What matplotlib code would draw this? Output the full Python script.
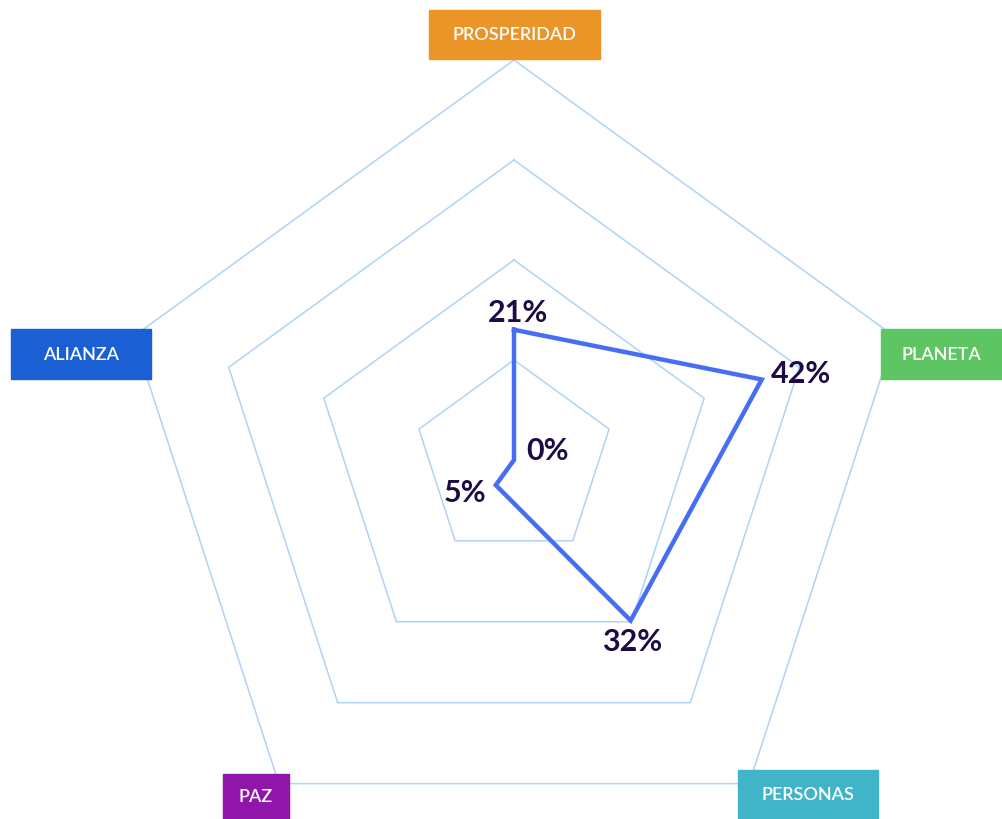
import numpy as np
import matplotlib.pyplot as plt
from matplotlib.patches import Rectangle

# datos
categorias = ["PROSPERIDAD", "PLANETA", "PERSONAS", "PAZ", "ALIANZA"]
valores = [21, 42, 32, 5, 0]
colores_cat = ["#EB9427", "#5DC663", "#42B4CA", "#8F16A9", "#1B5FD5"]
etiquetas = ["21%", "42%", "32%", "5%", "0%"]
escala_max = 64.5
niveles = [0.25, 0.5, 0.75, 1.0]

W, H = 1002, 820
fig = plt.figure(figsize=(W / 100, H / 100), dpi=100)

# centro del radar en pixeles (514, 461), radio 400
cx, cy, R = 514, 461, 400
ax = fig.add_axes([(cx - R) / W, (H - cy - R) / H, 2 * R / W, 2 * R / H], projection="polar")
ax.set_theta_offset(np.pi / 2)
ax.set_theta_direction(-1)
ax.set_ylim(0, escala_max)
ax.grid(False)
ax.set_xticks([])
ax.set_yticks([])
ax.spines["polar"].set_visible(False)
ax.patch.set_alpha(0)

n = len(categorias)
angulos = np.linspace(0, 2 * np.pi, n, endpoint=False)
ang_cerrado = np.append(angulos, angulos[0])

# rejilla pentagonal
for nv in niveles:
    ax.plot(ang_cerrado, [nv * escala_max] * (n + 1), color="#AFD3F7", lw=1.1, zorder=1)

# serie
vals_cerrado = valores + [valores[0]]
ax.plot(ang_cerrado, vals_cerrado, color="#456EF5", lw=3.2, zorder=3,
        solid_joinstyle="miter", clip_on=False)

# etiquetas de valores
offsets = [(3, 13), (28, 5), (1, -15), (-22, -5), (24, 7)]
for a, v, t, off in zip(angulos, valores, etiquetas, offsets):
    ax.annotate(t, xy=(a, v), xytext=off, textcoords="offset points",
                ha="center", va="center", fontsize=22, fontweight="bold",
                family="Lato", color="#1C0B44", zorder=4, annotation_clip=False)

# cajas de categorias (x0, y0, ancho, alto en pixeles)
cajas = [(429, 11, 171, 49), (881, 330, 121, 50), (738, 771, 140, 49),
         (223, 775, 66, 45), (11, 330, 140, 50)]
for cat, col, (x0, y0, w, h) in zip(categorias, colores_cat, cajas):
    fig.patches.append(Rectangle((x0 / W, (H - y0 - h) / H), w / W, h / H,
                                 transform=fig.transFigure, color=col, zorder=5))
    fig.text((x0 + w / 2) / W, (H - y0 - h / 2) / H, cat, ha="center", va="center",
             fontsize=13, fontweight="semibold", family="Lato", color="white", zorder=6)

fig.savefig("out.png", dpi=100)
